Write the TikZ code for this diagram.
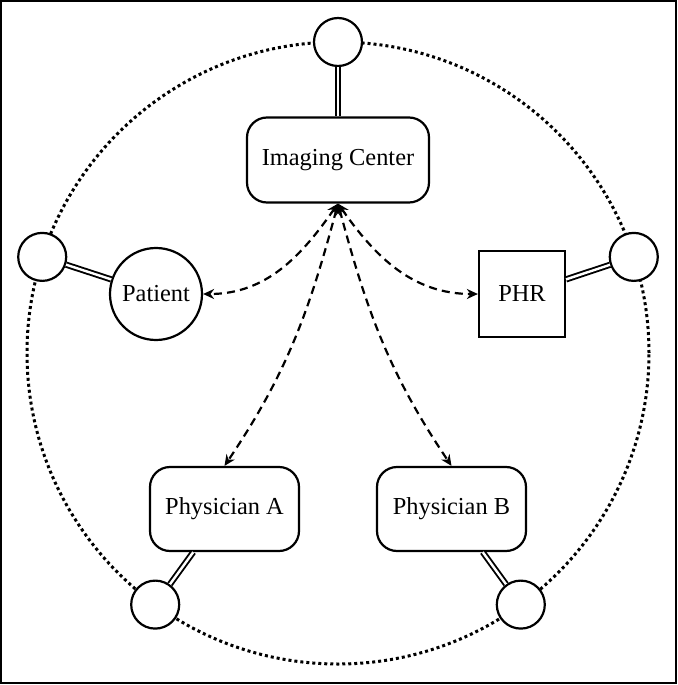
\documentclass[tikz,border=0pt]{standalone}
\usepackage{fontspec}
\setmainfont{Liberation Serif}
\usetikzlibrary{arrows.meta}

\tikzset{
    actor/.style={draw, line width=1.1pt, rounded corners=10pt, minimum width=74.5pt,
        minimum height=42pt, font=\rmfamily\fontsize{12.2}{14}\selectfont},
    port/.style={draw, circle, line width=1.1pt, minimum size=24pt, inner sep=0pt, fill=white},
    bond/.style={double, double distance=1.2pt, line width=0.95pt},
    link/.style={dashed, dash pattern=on 4pt off 2.6pt, line width=1.1pt, <->,
        >={Stealth[length=5.5pt,width=5pt,inset=1.8pt]}}
}

\begin{document}
\begin{tikzpicture}[x=5pt, y=5pt]
        \useasboundingbox (-33.8,35.3) rectangle (33.9,-33.2);
        \draw[line width=1pt] (-33.7,35.2) rectangle (33.8,-33.0);

        % ring of ports
        \draw[dash pattern=on 1.5pt off 1.5pt, line width=1.5pt] (0,0) circle (31.1);
        \node[port] (ptop) at (90:31.1) {};
        \node[port] (pleft) at (162:31.1) {};
        \node[port] (pright) at (18:31.1) {};
        \node[port] (pbl) at (234:31.1) {};
        \node[port] (pbr) at (306:31.1) {};

        % parties
        \node[actor, minimum width=91pt, minimum height=42.5pt] (center) at (0, 19.3) {Imaging Center};
        \node[actor, circle, minimum size=46pt, inner sep=0pt] (patient) at (-18.2, 5.9) {Patient};
        \node[actor, rounded corners=0pt, minimum width=43pt, minimum height=43pt] (phr) at (18.4, 5.9) {PHR};
        \node[actor] (docA) at (-11.35, -15.6) {Physician A};
        \node[actor] (docB) at (11.35, -15.6) {Physician B};

        \draw[bond] (ptop) -- (center);
        \draw[bond] (pleft) -- (patient);
        \draw[bond] (pright) -- (phr);
        \draw[bond] (pbl) -- (docA);
        \draw[bond] (pbr) -- (docB);

        \draw[link] (center.south) to[out=235, in=0] (patient.east);
        \draw[link] (center.south) to[out=305, in=180] (phr.west);
        \draw[link] (center.south) to[out=255, in=56] (docA.north);
        \draw[link] (center.south) to[out=285, in=124] (docB.north);

    \end{tikzpicture}
\end{document}
